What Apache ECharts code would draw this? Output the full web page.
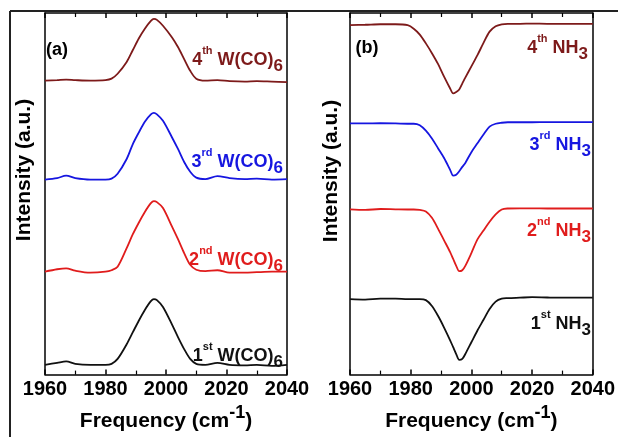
<!DOCTYPE html>
<html>
<head>
<meta charset="utf-8">
<script src="https://cdn.jsdelivr.net/npm/echarts@6/dist/echarts.min.js"></script>
<style>
html,body{margin:0;padding:0;background:#fff;}
#chart{width:618px;height:437px;}
</style>
</head>
<body>
<div id="chart"></div>
<script>
// ---- data ----
var xTicks = [1960, 1980, 2000, 2020, 2040];

var freqA = [1960,1964,1967,1970,1975,1980,1982,1984,1987,1989,1991,1993,1995,1996,1997,1999,2002,2004,2006,2008,2010,2013,2017,2021,2026,2030,2035,2040];
var wco6_4th = [300,300.5,301,300.5,300,300.5,302,307,319,331,343,353,361,363,362,356,344,334,322,310,302,300,300.5,299.5,299,299.5,299,298.5];
var wco6_3rd = [199,200.5,203,200.5,199,199,200,205,220,235,247,258,265.5,267,265.5,259,242,230,217,207,201,199.5,202.5,200.5,199.5,200,199,199.5];
var wco6_2nd = [105,107.5,108.5,106,104,105,106.5,110,129,143,155,166,175,177,176,170,151,138,124,112,107,105.5,106.5,104,104,104.5,105,105];
var wco6_1st = [10,12,13.5,11,10,10,11,16,31,43,55,66,75,77,76,69,51,38,26,16,11,10,12,10,9.5,10,9,10];

var freqB = [1960,1965,1970,1975,1979,1981,1983,1985,1987,1989,1991,1993,1994,1995,1996,1997,1998,2000,2002,2004,2006,2008,2010,2012,2016,2020,2025,2030,2035,2040];
var nh3_4th = [356.7,357,357.5,357.5,356.5,353,347,338,328,317,304,292,287,288.5,291,297,303,314.5,326,338.5,350,355.5,357.5,358,358,358.2,358,358,358,358];
var nh3_3rd = [256.3,256.3,256.5,256.3,256,256,254.5,249,241,231,221,209,203,204,207.5,212,216,227,236,245,253,256,257,257.5,257.5,257.5,257.7,257.7,257.7,257.7];
var nh3_2nd = [168.7,168,169,168.7,168.5,168.5,168,166.5,160,149,137,125,118,111,105.5,106.5,111,124,138,147,156,163.5,168.5,169.5,169.7,169.7,169.5,169.5,169.5,169.5];
var nh3_1st = [77,76.5,77.5,77.5,77,77,77,76,70,60,48,35,28,21,15,16,21,33,45,56,67,74.5,77.5,78,78.5,79,78.7,78.5,78.5,78.5];

var seriesColors = ['#7d1a1a', '#1616e0', '#e01c1c', '#111111'];

// ---- build ----
function pairs(xs, ys) { return xs.map(function (x, i) { return [x, ys[i]]; }); }

var FONT = '"Liberation Sans", Arial, sans-serif';
var chart = echarts.init(document.getElementById('chart'), null, {renderer: 'canvas'});

function xAxisCfg(gridIndex, top) {
  return {
    type: 'value', gridIndex: gridIndex, min: xTicks[0], max: xTicks[xTicks.length - 1], interval: xTicks[1] - xTicks[0],
    position: top ? 'top' : 'bottom',
    axisLine: {show: true, onZero: false, lineStyle: {color: '#000', width: 1.5}},
    axisTick: {show: true, inside: true, length: 5, lineStyle: {color: '#000', width: 1.5}},
    minorTick: {show: true, splitNumber: 2, length: 4, lineStyle: {color: '#000', width: 1.2}},
    axisLabel: top ? {show: false} : {
      show: true, fontSize: 20, fontWeight: 'bold', color: '#000', margin: 5, fontFamily: FONT,
      formatter: function (v) { return String(v); }
    },
    splitLine: {show: false}, minorSplitLine: {show: false},
    name: top ? '' : '{t|Frequency (cm}{s|-1}{t|)}',
    nameLocation: 'middle', nameGap: 22,
    nameTextStyle: {
      rich: {
        t: {fontSize: 21, fontWeight: 'bold', color: '#000', fontFamily: FONT, lineHeight: 34},
        s: {fontSize: 18, fontWeight: 'bold', color: '#000', fontFamily: FONT, lineHeight: 12, verticalAlign: 'top'}
      }
    }
  };
}
function yAxisCfg(gridIndex, right) {
  return {
    type: 'value', gridIndex: gridIndex, min: 0, max: 369, position: right ? 'right' : 'left',
    axisLine: {show: true, lineStyle: {color: '#000', width: 1.5}},
    axisTick: {show: false}, axisLabel: {show: false}, splitLine: {show: false}
  };
}

function lineSeries(xi, yi, xs, ys, color) {
  return {
    type: 'line', xAxisIndex: xi, yAxisIndex: yi, data: pairs(xs, ys),
    smooth: 0.3, showSymbol: false, symbol: 'none',
    lineStyle: {color: color, width: 1.8}, silent: true, animation: false
  };
}

function richLabel(x, y, parts, color) {
  var rich = {
    n: {fontSize: 18, fontWeight: 'bold', fill: color, fontFamily: FONT, lineHeight: 30},
    sup: {fontSize: 11, fontWeight: 'bold', fill: color, fontFamily: FONT, lineHeight: 18, verticalAlign: 'top'},
    sub: {fontSize: 17, fontWeight: 'bold', fill: color, fontFamily: FONT, lineHeight: 18, verticalAlign: 'bottom'}
  };
  return {
    type: 'text', x: x, y: y, silent: true,
    style: {
      text: '{n|' + parts[0] + '}{sup|' + parts[1] + '}{n|' + parts[2] + '}{sub|' + parts[3] + '}',
      rich: rich, align: 'right', verticalAlign: 'middle'
    }
  };
}

var option = {
  backgroundColor: '#ffffff',
  animation: false,
  grid: [
    {left: 45, top: 13, width: 242, height: 369},
    {left: 350, top: 13, width: 244, height: 369}
  ],
  xAxis: [xAxisCfg(0, false), xAxisCfg(0, true), xAxisCfg(1, false), xAxisCfg(1, true)],
  yAxis: [yAxisCfg(0, false), yAxisCfg(0, true), yAxisCfg(1, false), yAxisCfg(1, true)],
  series: [
    lineSeries(0, 0, freqA, wco6_4th, seriesColors[0]),
    lineSeries(0, 0, freqA, wco6_3rd, seriesColors[1]),
    lineSeries(0, 0, freqA, wco6_2nd, seriesColors[2]),
    lineSeries(0, 0, freqA, wco6_1st, seriesColors[3]),
    lineSeries(2, 2, freqB, nh3_4th, seriesColors[0]),
    lineSeries(2, 2, freqB, nh3_3rd, seriesColors[1]),
    lineSeries(2, 2, freqB, nh3_2nd, seriesColors[2]),
    lineSeries(2, 2, freqB, nh3_1st, seriesColors[3])
  ],
  graphic: [
    {type: 'line', silent: true, shape: {x1: 10, y1: 11, x2: 618, y2: 11}, style: {stroke: '#222', lineWidth: 2}},
    {type: 'line', silent: true, shape: {x1: 10, y1: 11, x2: 10, y2: 437}, style: {stroke: '#222', lineWidth: 2}},
    {type: 'text', x: 24, y: 170, rotation: Math.PI / 2, silent: true,
     style: {text: 'Intensity (a.u.)', fontSize: 21, fontWeight: 'bold', fontFamily: FONT, fill: '#000', align: 'center', verticalAlign: 'middle'}},
    {type: 'text', x: 331, y: 171, rotation: Math.PI / 2, silent: true,
     style: {text: 'Intensity (a.u.)', fontSize: 21, fontWeight: 'bold', fontFamily: FONT, fill: '#000', align: 'center', verticalAlign: 'middle'}},
    {type: 'text', x: 57, y: 50, silent: true,
     style: {text: '(a)', fontSize: 18, fontWeight: 'bold', fontFamily: FONT, fill: '#000', align: 'center', verticalAlign: 'middle'}},
    {type: 'text', x: 367, y: 48, silent: true,
     style: {text: '(b)', fontSize: 18, fontWeight: 'bold', fontFamily: FONT, fill: '#000', align: 'center', verticalAlign: 'middle'}},
    richLabel(283, 60, ['4', 'th', ' W(CO)', '6'], seriesColors[0]),
    richLabel(283, 162, ['3', 'rd', ' W(CO)', '6'], seriesColors[1]),
    richLabel(283, 260, ['2', 'nd', ' W(CO)', '6'], seriesColors[2]),
    richLabel(283, 356, ['1', 'st', ' W(CO)', '6'], seriesColors[3]),
    richLabel(588, 48, ['4', 'th', ' NH', '3'], seriesColors[0]),
    richLabel(591, 145, ['3', 'rd', ' NH', '3'], seriesColors[1]),
    richLabel(591, 231, ['2', 'nd', ' NH', '3'], seriesColors[2]),
    richLabel(591, 324, ['1', 'st', ' NH', '3'], seriesColors[3])
  ]
};
chart.setOption(option);
</script>
</body>
</html>
